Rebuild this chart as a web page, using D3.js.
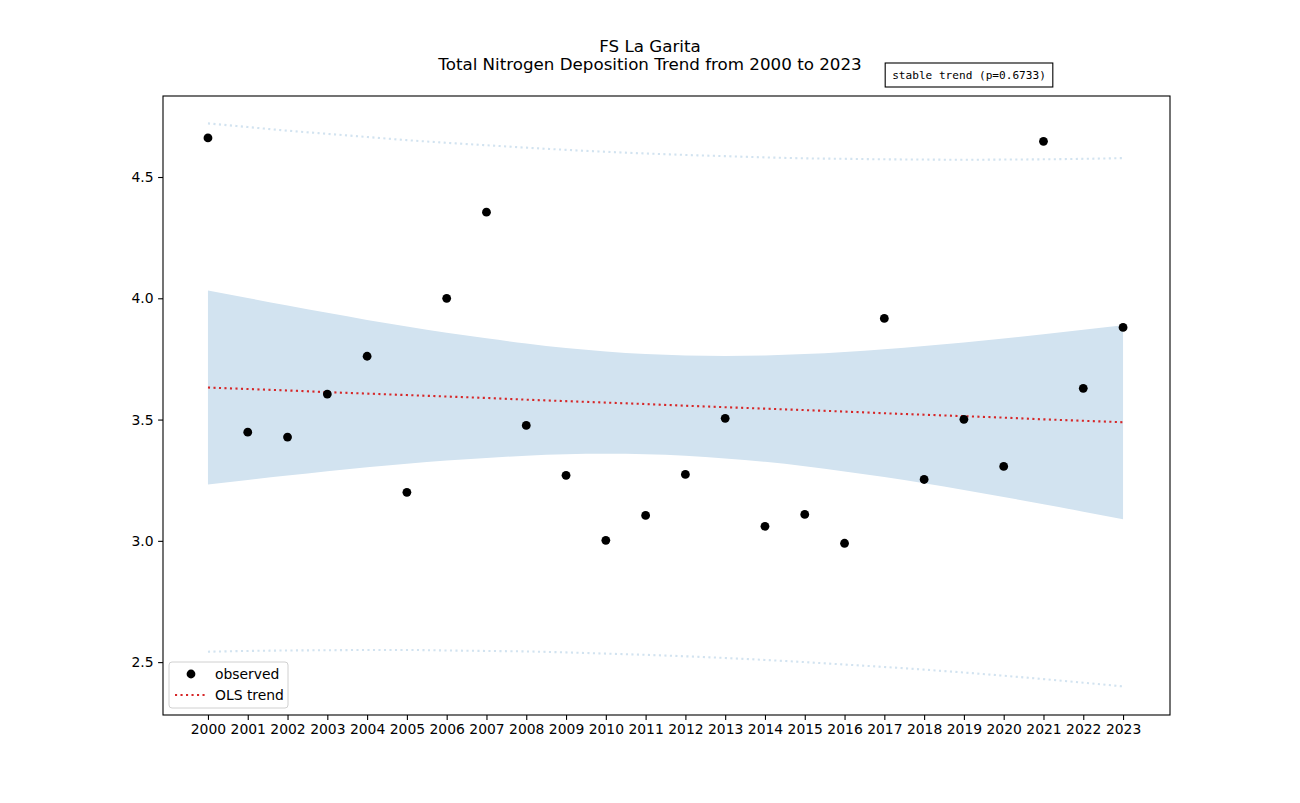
<!DOCTYPE html>
<meta charset="utf-8">
<script src="https://d3js.org/d3.v7.js"></script>
<style>
  body { margin: 0; background: #fff; }
  text { font-family: "DejaVu Sans", sans-serif; }
</style>
<div id="chart"></div>
<script>

// observed annual totals
var years = [2000, 2001, 2002, 2003, 2004, 2005, 2006, 2007, 2008, 2009, 2010, 2011,
             2012, 2013, 2014, 2015, 2016, 2017, 2018, 2019, 2020, 2021, 2022, 2023];
var observed = [4.661, 3.448, 3.428, 3.605, 3.761, 3.200, 4.000, 4.355, 3.476, 3.270, 3.002, 3.105,
                3.274, 3.505, 3.060, 3.109, 2.990, 3.917, 3.253, 3.501, 3.307, 4.647, 3.629, 3.880];

// OLS trend and bands
var trend = [3.632, 3.626, 3.620, 3.613, 3.607, 3.601, 3.595, 3.589, 3.582, 3.576, 3.570, 3.564,
             3.557, 3.551, 3.545, 3.539, 3.533, 3.526, 3.520, 3.514, 3.508, 3.501, 3.495, 3.489];
var ciLower = [3.232, 3.251, 3.269, 3.287, 3.303, 3.318, 3.331, 3.342, 3.351, 3.357, 3.359, 3.357,
               3.351, 3.340, 3.326, 3.308, 3.286, 3.263, 3.237, 3.210, 3.181, 3.151, 3.120, 3.089];
var ciUpper = [4.032, 4.001, 3.970, 3.940, 3.911, 3.884, 3.858, 3.835, 3.814, 3.795, 3.781, 3.770,
               3.764, 3.762, 3.764, 3.770, 3.779, 3.790, 3.803, 3.818, 3.834, 3.852, 3.870, 3.889];
var piLower = [2.543, 2.546, 2.548, 2.549, 2.550, 2.550, 2.548, 2.546, 2.544, 2.540, 2.535, 2.530,
               2.524, 2.517, 2.509, 2.500, 2.490, 2.480, 2.469, 2.457, 2.444, 2.430, 2.415, 2.400];
var piUpper = [4.721, 4.706, 4.691, 4.678, 4.665, 4.652, 4.641, 4.631, 4.621, 4.612, 4.604, 4.597,
               4.591, 4.586, 4.581, 4.577, 4.575, 4.573, 4.572, 4.571, 4.572, 4.573, 4.575, 4.578];

var yTicks = [2.5, 3.0, 3.5, 4.0, 4.5];
var titleLines = ["FS La Garita", "Total Nitrogen Deposition Trend from 2000 to 2023"];
var trendNote = "stable trend (p=0.6733)";

var rows = years.map(function(yr, i) {
  return {year: yr, obs: observed[i], trend: trend[i],
          ciLo: ciLower[i], ciHi: ciUpper[i], piLo: piLower[i], piHi: piUpper[i]};
});

var W = 1300, H = 803;
var margin = {top: 96, right: 130, bottom: 88, left: 163},
    width = W - margin.left - margin.right,
    height = H - margin.top - margin.bottom;

var svg = d3.select("#chart")
  .append("svg")
    .attr("width", W)
    .attr("height", H);

var g = svg.append("g")
    .attr("transform", "translate(" + margin.left + "," + margin.top + ")");

var x = d3.scaleLinear()
  .domain([1998.87, 2024.18])
  .range([0, width]);

var y = d3.scaleLinear()
  .domain([2.282, 4.834])
  .range([height, 0]);

var dotted = "2.1,3.4";

// confidence band
g.append("path")
  .datum(rows)
  .attr("fill", "#d2e3f0")
  .attr("d", d3.area()
    .x(function(d) { return x(d.year); })
    .y0(function(d) { return y(d.ciLo); })
    .y1(function(d) { return y(d.ciHi); })
    .curve(d3.curveMonotoneX));

// prediction interval lines
["piLo", "piHi"].forEach(function(key) {
  g.append("path")
    .datum(rows)
    .attr("fill", "none")
    .attr("stroke", "#d2e3f0")
    .attr("stroke-width", 2.1)
    .attr("stroke-dasharray", dotted)
    .attr("d", d3.line()
      .x(function(d) { return x(d.year); })
      .y(function(d) { return y(d[key]); })
      .curve(d3.curveMonotoneX));
});

// trend
g.append("path")
  .datum(rows)
  .attr("fill", "none")
  .attr("stroke", "#d62728")
  .attr("stroke-width", 2.1)
  .attr("stroke-dasharray", dotted)
  .attr("d", d3.line()
    .x(function(d) { return x(d.year); })
    .y(function(d) { return y(d.trend); }));

// observed points
g.selectAll("circle.obs")
  .data(rows)
  .enter()
  .append("circle")
    .attr("class", "obs")
    .attr("cx", function(d) { return x(d.year); })
    .attr("cy", function(d) { return y(d.obs); })
    .attr("r", 4.4)
    .attr("fill", "#000");

// axes
var xAxis = g.append("g")
  .attr("transform", "translate(0," + height + ")")
  .call(d3.axisBottom(x).tickValues(years).tickFormat(d3.format("d")).tickSize(4.9).tickPadding(4.5));

var yAxis = g.append("g")
  .call(d3.axisLeft(y).tickValues(yTicks).tickFormat(d3.format(".1f")).tickSize(4.9).tickPadding(4.5));

[xAxis, yAxis].forEach(function(a) {
  a.select(".domain").remove();
  a.selectAll("text").attr("font-size", "13.9px").attr("fill", "#000")
    .style("font-family", "DejaVu Sans, sans-serif");
  a.selectAll("line").attr("stroke", "#000").attr("stroke-width", 1.1);
});

// frame
g.append("rect")
  .attr("width", width)
  .attr("height", height)
  .attr("fill", "none")
  .attr("stroke", "#000")
  .attr("stroke-width", 1.1);

// title (centred on the figure)
svg.append("g").selectAll("text")
  .data(titleLines)
  .enter()
  .append("text")
    .attr("x", W / 2)
    .attr("y", function(d, i) { return 52 + i * 18.3; })
    .attr("text-anchor", "middle")
    .attr("font-size", "16.7px")
    .text(function(d) { return d; });

// trend note box
var note = svg.append("g").attr("transform", "translate(969,75)");
var noteText = note.append("text")
  .attr("text-anchor", "middle")
  .attr("dy", "0.35em")
  .style("font-family", "DejaVu Sans Mono, monospace")
  .attr("font-size", "11.1px")
  .text(trendNote);
var bb = noteText.node().getBBox();
note.insert("rect", "text")
  .attr("x", bb.x - 7)
  .attr("y", -12)
  .attr("width", bb.width + 14)
  .attr("height", 24)
  .attr("fill", "#fff")
  .attr("stroke", "#000")
  .attr("stroke-width", 1.1);

// legend
var leg = g.append("g").attr("transform", "translate(6," + (height - 53) + ")");
leg.append("rect")
  .attr("width", 119)
  .attr("height", 46)
  .attr("rx", 3)
  .attr("fill", "#fff")
  .attr("fill-opacity", 0.8)
  .attr("stroke", "#d0d0d0");
leg.append("circle")
  .attr("cx", 22)
  .attr("cy", 12)
  .attr("r", 4.4)
  .attr("fill", "#000");
leg.append("line")
  .attr("x1", 6).attr("x2", 38)
  .attr("y1", 33).attr("y2", 33)
  .attr("stroke", "#d62728")
  .attr("stroke-width", 2.1)
  .attr("stroke-dasharray", dotted);
var legLabels = ["observed", "OLS trend"];
leg.selectAll("text.lab")
  .data(legLabels)
  .enter()
  .append("text")
    .attr("class", "lab")
    .attr("x", 46)
    .attr("y", function(d, i) { return 12 + i * 21; })
    .attr("dy", "0.35em")
    .attr("font-size", "13.9px")
    .text(function(d) { return d; });

</script>
